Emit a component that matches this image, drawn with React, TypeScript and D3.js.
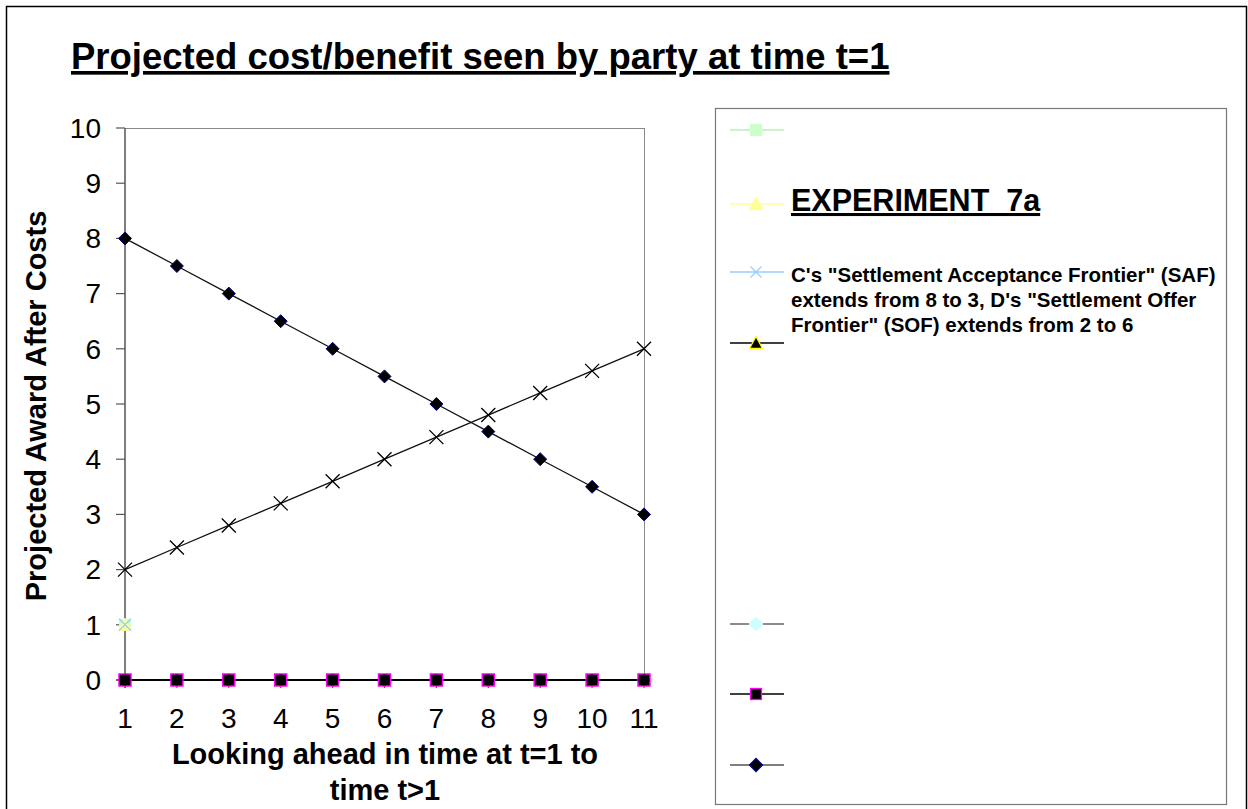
import React from "react";
import * as d3 from "d3";

const xTicks = [1, 2, 3, 4, 5, 6, 7, 8, 9, 10, 11];
const yTicks = [0, 1, 2, 3, 4, 5, 6, 7, 8, 9, 10];
const safValues = [8, 7.5, 7, 6.5, 6, 5.5, 5, 4.5, 4, 3.5, 3];
const sofValues = [2, 2.4, 2.8, 3.2, 3.6, 4, 4.4, 4.8, 5.2, 5.6, 6];
const zeroValues = [0, 0, 0, 0, 0, 0, 0, 0, 0, 0, 0];
const startPoint = [1];

const title = "Projected cost/benefit seen by party at time t=1";
const yLabel = "Projected Award After Costs";
const xLabelLines = ["Looking ahead in time at t=1 to", "time t>1"];
const experimentLabel = "EXPERIMENT\u00a0\u00a07a";
const noteLines = [
  "C's \"Settlement Acceptance Frontier\" (SAF)",
  "extends from 8 to 3, D's \"Settlement Offer",
  "Frontier\" (SOF) extends from 2 to 6",
];

const FONT = "'Liberation Sans', Arial, sans-serif";

type MarkerKind = "square" | "triangle" | "x" | "diamond" | "circle";

function Marker({ kind, x, y, fill, stroke, size = 10, sw = 1 }: any) {
  const h = size / 2;
  if (kind === "square")
    return <rect x={x - h} y={y - h} width={size} height={size} fill={fill} stroke={stroke} strokeWidth={sw} />;
  if (kind === "triangle")
    return (
      <path
        d={`M${x},${y - h - 1}L${x + h + 1},${y + h}L${x - h - 1},${y + h}Z`}
        fill={fill}
        stroke={stroke}
        strokeWidth={sw}
      />
    );
  if (kind === "diamond")
    return (
      <path d={`M${x},${y - h - 1}L${x + h + 1},${y}L${x},${y + h + 1}L${x - h - 1},${y}Z`} fill={fill} stroke={stroke} strokeWidth={sw} />
    );
  if (kind === "circle") return <circle cx={x} cy={y} r={h - 0.5} fill={fill} stroke={stroke} strokeWidth={sw} />;
  return (
    <path d={`M${x - h},${y - h}L${x + h},${y + h}M${x - h},${y + h}L${x + h},${y - h}`} stroke={stroke} strokeWidth={sw} fill="none" />
  );
}

export default function App() {
  const left = 125,
    right = 644,
    top = 128,
    bottom = 680;
  const x = d3.scaleLinear().domain([1, 11]).range([left, right]);
  const y = d3.scaleLinear().domain([0, 10]).range([bottom, top]);
  const line = d3
    .line<number>()
    .x((_, i) => x(xTicks[i]))
    .y((d) => y(d));

  const legendItems = [
    { y: 130, line: "#b8f0b8", kind: "square", fill: "#ccffcc", stroke: "#ccffcc" },
    { y: 204, line: "#ffff99", kind: "triangle", fill: "#ffff99", stroke: "#ffff99" },
    { y: 272, line: "#99ccff", kind: "x", fill: "none", stroke: "#99ccff" },
    { y: 343, line: "#000000", kind: "triangle", fill: "#000000", stroke: "#ffff00" },
    { y: 624, line: "#666666", kind: "diamond", fill: "#ccffff", stroke: "#ccffff" },
    { y: 694, line: "#000000", kind: "square", fill: "#000000", stroke: "#ff00ff" },
    { y: 765, line: "#555555", kind: "diamond", fill: "#000000", stroke: "#000080" },
  ];

  return (
    <svg width={1248} height={809} style={{ position: "absolute", left: 0, top: 0, background: "#fff" }} fontFamily={FONT}>
      <rect x={0} y={0} width={1248} height={809} fill="#fff" />
      <rect x={6.5} y={6.5} width={1240} height={820} fill="none" stroke="#000" strokeWidth={1.5} />

      {/* title */}
      <text x={71} y={69} fontSize={36.5} fontWeight="bold" textDecoration="underline">
        {title}
      </text>

      {/* plot frame */}
      <line x1={left} x2={right} y1={top + 0.5} y2={top + 0.5} stroke="#888" />
      <line x1={right + 0.5} x2={right + 0.5} y1={top} y2={bottom} stroke="#888" />
      <line x1={left} x2={left} y1={top} y2={bottom + 8} stroke="#555" strokeWidth={1.5} />
      <line x1={left - 9} x2={right} y1={bottom} y2={bottom} stroke="#555" strokeWidth={1.5} />

      {yTicks.map((t) => (
        <g key={"y" + t}>
          <line x1={left - 9} x2={left} y1={y(t)} y2={y(t)} stroke="#555" strokeWidth={1.2} />
          <text x={101} y={y(t)} dy="0.35em" fontSize={28} textAnchor="end">
            {t}
          </text>
        </g>
      ))}
      {xTicks.map((t) => (
        <g key={"x" + t}>
          <line x1={x(t)} x2={x(t)} y1={bottom} y2={bottom + 8} stroke="#555" strokeWidth={1.2} />
          <text x={x(t)} y={718} dy="0.35em" fontSize={28} textAnchor="middle">
            {t}
          </text>
        </g>
      ))}

      <text transform="translate(46,406) rotate(-90)" fontSize={29} fontWeight="bold" textAnchor="middle">
        {yLabel}
      </text>
      {xLabelLines.map((l, i) => (
        <text key={l} x={385} y={764 + i * 36} fontSize={29} fontWeight="bold" textAnchor="middle">
          {l}
        </text>
      ))}

      {/* series lines */}
      <path d={line(zeroValues) || ""} fill="none" stroke="#000" strokeWidth={2} />
      <path d={line(sofValues) || ""} fill="none" stroke="#111" strokeWidth={1.3} />
      <path d={line(safValues) || ""} fill="none" stroke="#111" strokeWidth={1.3} />

      {/* zero series markers */}
      {zeroValues.map((v, i) => (
        <g key={"z" + i}>
          <Marker kind="triangle" x={x(xTicks[i])} y={y(v) + 1} fill="#000" stroke="#ffff00" size={10} />
          <Marker kind="square" x={x(xTicks[i])} y={y(v)} fill="#000" stroke="#ff00ff" size={12} sw={1.5} />
          <Marker kind="circle" x={x(xTicks[i])} y={y(v)} fill="#000" stroke="#000" size={11} />
        </g>
      ))}
      {sofValues.map((v, i) => (
        <Marker key={"s" + i} kind="x" x={x(xTicks[i])} y={y(v)} stroke="#000" size={14} sw={1.3} />
      ))}
      {safValues.map((v, i) => (
        <Marker key={"f" + i} kind="diamond" x={x(xTicks[i])} y={y(v)} fill="#000" stroke="#000080" size={11} sw={1} />
      ))}
      {startPoint.map((v, i) => (
        <g key={"p" + i}>
          <Marker kind="square" x={x(xTicks[i])} y={y(v)} fill="#ccffcc" stroke="#ccffcc" size={11} />
          <Marker kind="triangle" x={x(xTicks[i])} y={y(v)} fill="#ffff99" stroke="#ffff99" size={11} />
          <Marker kind="x" x={x(xTicks[i])} y={y(v)} stroke="#99ccff" size={12} sw={1.3} />
        </g>
      ))}

      {/* legend */}
      <rect x={715.5} y={108.5} width={511} height={696} fill="#fff" stroke="#777" strokeWidth={1.2} />
      {legendItems.map((it, i) => (
        <g key={"l" + i}>
          <line x1={730} x2={784} y1={it.y} y2={it.y} stroke={it.line} strokeWidth={1.3} />
          <Marker kind={it.kind as MarkerKind} x={756} y={it.y} fill={it.fill} stroke={it.stroke} size={11} sw={it.kind === "x" ? 1.2 : 1.3} />
        </g>
      ))}
      <text x={791} y={211} fontSize={30.5} fontWeight="bold" textDecoration="underline">
        {experimentLabel}
      </text>
      {noteLines.map((l, i) => (
        <text key={l} x={791} y={282 + i * 25} fontSize={20.5} fontWeight="bold">
          {l}
        </text>
      ))}
    </svg>
  );
}
